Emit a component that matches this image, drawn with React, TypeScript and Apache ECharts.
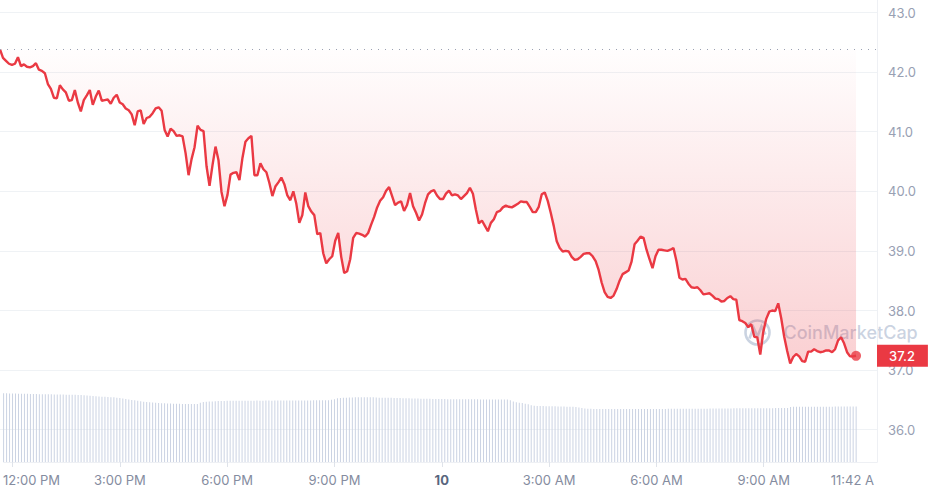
import React, { useEffect, useRef } from "react";
import * as echarts from "echarts";

// Time axis: minutes after 12:00 PM, one sample every 5 minutes
const START_MIN = -15;
const STEP_MIN = 5;
const SLOTS = 294; // 5-minute slots spanning the plot width

const price: number[] = [
  42.38, 42.24, 42.19, 42.14, 42.12, 42.14, 42.25, 42.1, 42.13, 42.09, 42.08, 42.1,
  42.15, 42.04, 42.02, 41.98, 41.8, 41.72, 41.57, 41.56, 41.78, 41.71, 41.66, 41.52,
  41.53, 41.7, 41.49, 41.34, 41.53, 41.61, 41.7, 41.45, 41.59, 41.69, 41.52, 41.53,
  41.54, 41.47, 41.57, 41.62, 41.49, 41.46, 41.39, 41.36, 41.29, 41.11, 41.34, 41.36,
  41.13, 41.23, 41.25, 41.31, 41.39, 41.41, 41.35, 41.03, 40.92, 41.05, 41.01, 40.93,
  40.94, 40.92, 40.64, 40.27, 40.54, 40.74, 41.1, 41.03, 41.01, 40.42, 40.09, 40.44,
  40.75, 40.52, 39.99, 39.75, 39.94, 40.28, 40.31, 40.32, 40.19, 40.56, 40.83, 40.89,
  40.93, 40.27, 40.27, 40.47, 40.37, 40.32, 40.14, 39.92, 40.08, 40.15, 40.23, 40.12,
  39.93, 39.85, 40.0, 39.79, 39.47, 39.6, 39.98, 39.75, 39.66, 39.6, 39.28, 39.3,
  38.96, 38.79, 38.86, 38.91, 39.17, 39.3, 38.9, 38.63, 38.66, 38.86, 39.22, 39.3,
  39.29, 39.27, 39.24, 39.3, 39.44, 39.57, 39.73, 39.84, 39.9, 40.01, 40.07, 39.92,
  39.77, 39.81, 39.83, 39.67, 39.77, 39.97, 39.75, 39.64, 39.51, 39.61, 39.8, 39.95,
  40.0, 40.02, 39.93, 39.87, 39.87, 39.96, 40.01, 39.93, 39.95, 39.93, 39.87, 39.92,
  39.97, 40.06, 39.96, 39.69, 39.46, 39.51, 39.42, 39.33, 39.47, 39.53, 39.65, 39.67,
  39.73, 39.76, 39.74, 39.73, 39.76, 39.79, 39.83, 39.82, 39.82, 39.74, 39.65, 39.65,
  39.74, 39.95, 39.98, 39.84, 39.64, 39.42, 39.16, 39.05, 38.99, 39.0, 38.99, 38.9,
  38.85, 38.86, 38.9, 38.95, 38.96, 38.96, 38.91, 38.83, 38.68, 38.47, 38.31, 38.23,
  38.21, 38.25, 38.36, 38.5, 38.61, 38.64, 38.67, 38.82, 39.11, 39.17, 39.24, 39.22,
  39.02, 38.86, 38.71, 38.91, 39.02, 39.02, 39.01, 39.0, 39.02, 39.05, 38.83, 38.55,
  38.52, 38.53, 38.45, 38.39, 38.38, 38.39, 38.34, 38.27, 38.28, 38.29, 38.25, 38.2,
  38.19, 38.15, 38.16, 38.21, 38.24, 38.19, 38.18, 37.84, 37.82, 37.79, 37.72, 37.77,
  37.56, 37.55, 37.26, 37.64, 37.86, 37.98, 38.0, 37.99, 38.12, 37.87, 37.56, 37.32,
  37.11, 37.22, 37.27, 37.23, 37.15, 37.14, 37.31, 37.31, 37.35, 37.32, 37.3, 37.31,
  37.33, 37.33, 37.3, 37.35, 37.5, 37.55, 37.45, 37.3, 37.23, 37.23, 37.24,
];

// Volume (millions, arbitrary scale)
const volume: number[] = [
  83.3, 83.2, 83.1, 83.0, 82.9, 82.8, 82.7, 82.6, 82.6, 82.5, 82.5, 82.4,
  82.2, 82.2, 82.1, 82.1, 82.0, 81.9, 81.9, 81.8, 81.7, 81.6, 81.6, 81.5,
  81.4, 81.3, 81.2, 80.8, 80.5, 80.3, 80.0, 79.8, 79.5, 79.2, 79.0, 78.8,
  78.6, 78.4, 78.0, 77.5, 77.0, 76.4, 75.9, 75.3, 74.7, 74.1, 73.6, 73.1,
  72.8, 72.5, 72.2, 71.9, 71.6, 71.3, 71.1, 70.9, 70.8, 70.7, 70.6, 70.5,
  70.4, 70.3, 70.3, 70.3, 70.3, 70.4, 71.8, 72.6, 72.9, 73.2, 73.4, 73.6,
  73.8, 73.9, 74.0, 74.1, 74.2, 74.3, 74.3, 74.3, 74.3, 74.3, 74.3, 74.3,
  74.3, 74.4, 74.3, 74.3, 74.4, 74.4, 74.3, 74.4, 74.4, 74.4, 74.4, 74.4,
  74.4, 74.4, 74.5, 74.5, 74.5, 74.6, 74.6, 74.6, 74.7, 74.7, 74.8, 74.8,
  74.9, 75.0, 75.4, 76.2, 77.2, 77.5, 77.8, 78.0, 78.2, 78.3, 78.4, 78.4,
  78.4, 78.4, 78.5, 78.5, 78.4, 78.3, 78.0, 77.9, 77.9, 77.8, 77.8, 77.7,
  77.6, 77.5, 77.4, 77.3, 77.2, 77.1, 77.0, 76.9, 76.8, 76.8, 76.7, 76.6,
  76.5, 76.5, 76.4, 76.4, 76.3, 76.2, 76.1, 76.1, 76.0, 76.0, 76.0, 76.0,
  76.0, 76.0, 76.0, 76.0, 75.9, 75.9, 75.9, 75.9, 75.9, 75.9, 75.8, 75.8,
  75.8, 75.7, 75.0, 73.2, 72.4, 71.9, 71.4, 70.6, 70.0, 68.8, 68.2, 67.9,
  67.9, 67.8, 67.7, 67.6, 67.5, 67.5, 67.4, 67.3, 67.2, 67.1, 67.0, 66.9,
  66.8, 66.2, 65.4, 64.9, 64.6, 64.4, 64.3, 64.3, 64.2, 64.2, 64.2, 64.2,
  64.2, 64.2, 64.3, 64.2, 64.2, 64.2, 64.3, 64.3, 64.2, 64.2, 64.3, 64.3,
  64.3, 64.3, 64.3, 64.2, 64.2, 64.3, 64.3, 64.4, 64.4, 64.4, 64.4, 64.4,
  64.5, 64.5, 64.5, 64.5, 64.6, 64.6, 64.6, 64.6, 64.6, 64.7, 64.7, 64.7,
  64.8, 64.8, 64.9, 64.9, 65.0, 65.1, 65.1, 65.1, 65.1, 65.1, 65.2, 65.2,
  65.2, 65.2, 65.2, 65.2, 65.3, 65.3, 65.3, 65.4, 65.4, 65.5, 65.5, 65.6,
  66.8, 67.0, 67.0, 67.0, 67.0, 67.1, 67.1, 67.0, 67.0, 67.0, 67.1, 67.1,
  67.1, 67.1, 67.1, 67.2, 67.2, 67.2, 67.2, 67.2, 67.2, 67.3, 67.3,
];

const xTickValues: number[] = [0, 180, 360, 540, 720, 900, 1080, 1260, 1422];
const xTickLabels: string[] = [
  "12:00 PM", "3:00 PM", "6:00 PM", "9:00 PM", "10", "3:00 AM", "6:00 AM", "9:00 AM", "11:42 A",
];
const yTicks: number[] = [36, 37, 38, 39, 40, 41, 42, 43];

const RED = "#ea3943";

echarts.graphic.registerShape(
  "cmcLogo",
  echarts.graphic.extendPath(
    "M 2 14 A 12 12 0 1 1 26 14 A 12 12 0 1 1 2 14 Z M 6 20 L 10 9 L 14 18 L 18 8 L 22 16",
    {}
  )
);

export default function App() {
  const ref = useRef<HTMLDivElement>(null);

  useEffect(() => {
    document.body.style.margin = "0";
    if (!ref.current) return;
    const chart = echarts.init(ref.current, undefined, { renderer: "svg" });

    const slotTimes: number[] = [];
    for (let i = 0; i < SLOTS; i++) slotTimes.push(START_MIN + STEP_MIN * i);
    const priceData = price.map((p, i) => [slotTimes[i], p]);
    const baseline = price[0];
    const last = price[price.length - 1];
    const lastTime = slotTimes[price.length - 1];
    const xMin = START_MIN;
    const xMax = slotTimes[SLOTS - 1];

    const option: any = {
      animation: false,
      textStyle: { fontFamily: "Inter" },
      grid: [
        { left: 0, right: 51, top: 12.5, bottom: 65.3 },
        { left: 0, right: 51, top: 0, bottom: 33 },
      ],
      xAxis: [
        { type: "value", gridIndex: 0, min: xMin, max: xMax, show: false },
        {
          type: "value",
          gridIndex: 1,
          min: xMin,
          max: xMax,
          position: "bottom",
          axisLine: { show: true, onZero: false, lineStyle: { color: "#eef0f4", width: 1 } },
          axisTick: {
            show: true,
            customValues: xTickValues.slice(0, xTickValues.length - 1),
            length: 5,
            lineStyle: { color: "#dfe3ea" },
          },
          splitLine: { show: false },
          axisLabel: {
            customValues: xTickValues,
            margin: 11,
            fontSize: 13,
            color: "#858ca0",
            fontFamily: "Inter",
            formatter: (v: number) => {
              const k = xTickValues.indexOf(v);
              const lab = k >= 0 ? xTickLabels[k] : "";
              if (lab === "10") return "{day|10}";
              if (k === 0) return "{first|" + lab + "}";
              if (k === xTickValues.length - 1) return "{end|" + lab + "}";
              return lab;
            },
            rich: {
              day: { fontWeight: "bold", color: "#58667e", fontSize: 13, fontFamily: "Inter" },
              first: { padding: [0, 0, 0, 38], color: "#858ca0", fontSize: 13, fontFamily: "Inter" },
              end: { padding: [0, 16, 0, 0], color: "#858ca0", fontSize: 13, fontFamily: "Inter" },
            },
          },
        },
        {
          type: "category",
          gridIndex: 1,
          position: "top",
          show: false,
          boundaryGap: false,
          data: slotTimes.map(String),
        },
      ],
      yAxis: [
        {
          type: "value",
          gridIndex: 0,
          position: "right",
          min: yTicks[0],
          max: yTicks[yTicks.length - 1],
          interval: 1,
          axisLine: { show: false },
          axisTick: { show: false },
          splitLine: { show: true, lineStyle: { color: "#eff2f5", width: 1 } },
          axisLabel: {
            margin: 11,
            fontSize: 13,
            color: "#98a0b3",
            fontFamily: "Inter",
            formatter: (v: number) => v.toFixed(1),
          },
        },
        {
          type: "value",
          gridIndex: 1,
          position: "right",
          min: 0,
          max: 560,
          axisLine: { show: true, onZero: false, lineStyle: { color: "#eef0f4", width: 1 } },
          axisTick: { show: false },
          axisLabel: { show: false },
          splitLine: { show: false },
        },
      ],
      series: [
        {
          type: "bar",
          xAxisIndex: 2,
          yAxisIndex: 1,
          data: volume,
          barWidth: 1,
          itemStyle: { color: "#cbd3e3" },
          silent: true,
          z: 1,
        },
        {
          type: "line",
          xAxisIndex: 0,
          yAxisIndex: 0,
          data: priceData,
          showSymbol: false,
          smooth: false,
          lineStyle: { color: RED, width: 2.4 },
          itemStyle: { color: RED },
          areaStyle: {
            origin: baseline,
            color: new echarts.graphic.LinearGradient(0, 0, 0, 1, [
              { offset: 0, color: "rgba(234,57,67,0.01)" },
              { offset: 1, color: "rgba(234,57,67,0.34)" },
            ]),
          },
          silent: true,
          z: 3,
          markLine: {
            silent: true,
            symbol: ["none", "none"],
            animation: false,
            data: [
              {
                yAxis: baseline,
                lineStyle: { type: [1, 6], color: "#9aa1b2", width: 1 },
                label: { show: false },
              },
              {
                yAxis: last,
                lineStyle: { color: "rgba(0,0,0,0)", width: 1, type: "solid" },
                label: {
                  show: true,
                  position: "end",
                  distance: 0,
                  formatter: () => (Math.floor(last * 10) / 10).toFixed(1),
                  backgroundColor: RED,
                  color: "#ffffff",
                  fontSize: 13,
                  fontWeight: 500,
                  fontFamily: "Inter",
                  lineHeight: 16,
                  padding: [3, 13, 3, 12],
                },
              },
            ],
          },
        },
        {
          type: "scatter",
          xAxisIndex: 0,
          yAxisIndex: 0,
          data: [[lastTime, last]],
          symbolSize: 10,
          itemStyle: { color: RED },
          silent: true,
          z: 5,
        },
      ],
      graphic: [
        {
          type: "group",
          left: 743,
          top: 318,
          z: 10,
          silent: true,
          children: [
            {
              type: "cmcLogo",
              x: 0,
              y: 0,
              style: { fill: null, stroke: "rgba(180,192,212,0.7)", lineWidth: 2.6 },
            },
            {
              type: "text",
              x: 40,
              y: 5,
              style: {
                text: "CoinMarketCap",
                fontSize: 18,
                fontWeight: 500,
                fontFamily: "Inter",
                fill: "rgba(180,192,212,0.7)",
              },
            },
          ],
        },
      ],
    };

    chart.setOption(option);
    return () => chart.dispose();
  }, []);

  return <div ref={ref} style={{ width: 928, height: 495 }} />;
}
